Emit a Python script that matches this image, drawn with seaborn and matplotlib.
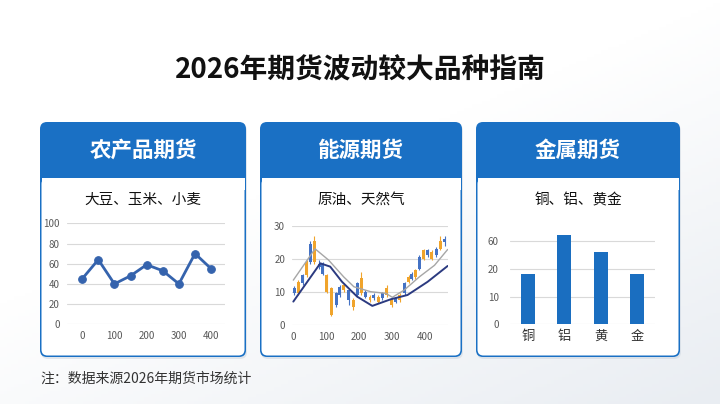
import numpy as np
import pandas as pd
import seaborn as sns
import matplotlib.pyplot as plt
from matplotlib.patches import FancyBboxPatch, Rectangle

# ---- data ----
title = "2026年期货波动较大品种指南"
panel_titles = ["农产品期货", "能源期货", "金属期货"]
panel_subtitles = ["大豆、玉米、小麦", "原油、天然气", "铜、铝、黄金"]
footnote = "注：数据来源2026年期货市场统计"

# agriculture line
agri_x = [0, 50, 100, 150, 200, 250, 300, 350, 400]
agri_y = [45, 64, 40, 48, 59, 53, 40, 70, 55]

# energy candlesticks
energy_x = [3, 15, 28, 41, 51, 64, 79, 90, 102, 115, 130, 141, 153, 168, 182, 194, 207, 219, 233,
            245, 258, 270, 284, 299, 311, 324, 339, 350, 360, 370, 383, 396, 408, 421, 434, 447, 460]
energy_open = [9.5, 13, 12.5, 19, 19, 25.5, 17.5, 15.5, 15, 11, 6, 9, 12, 7.5, 7.5, 9, 14, 8.5, 8.5,
               8, 8.5, 8, 11, 7.5, 7, 9, 9.5, 14.5, 14, 16.5, 17, 22.5, 21, 22, 21, 25.5, 25]
energy_close = [11, 9.5, 15, 15, 24.5, 19, 18.5, 18.5, 10, 3, 9.5, 11.5, 10.5, 10.5, 5.5, 12.5, 9.5, 10, 7.5,
                9, 7, 9.5, 9, 6, 8, 7.5, 12.5, 13, 15.5, 14.5, 20.5, 20, 22.5, 20, 23, 23, 26]
energy_high = [11.8, 13.5, 15.5, 19.5, 25.5, 27, 19.5, 19, 15.5, 11.5, 10, 12, 12.5, 11, 8, 13, 16, 10.5, 9,
               9.5, 9, 10, 12, 8, 8.5, 9.5, 13, 15, 16, 17, 21, 23, 23, 22.5, 23.5, 27, 27]
energy_low = [9, 9, 12, 14.5, 18.5, 18.5, 17, 15, 9.5, 2.5, 5.5, 8.5, 10, 6, 4.5, 8.5, 9, 8, 7,
              7.5, 6.5, 7.5, 8.5, 5.5, 6.5, 7, 9, 12.5, 13.5, 14, 16.5, 19.5, 20.5, 19.5, 20.5, 22.5, 24]
ma_gray_x = [0, 66, 107, 153, 184, 235, 281, 301, 337, 383, 429, 469]
ma_gray_y = [13.5, 23, 19.6, 14.5, 11.5, 10, 9.5, 8.3, 10.5, 14.5, 18, 22.8]
ma_navy_x = [0, 82, 112, 148, 194, 240, 296, 347, 408, 469]
ma_navy_y = [7, 18.6, 17.6, 13, 8.5, 5.7, 7.7, 9, 13, 17.8]

# metals bars (axis labelled 0, 10, 20, 60 at equal steps)
metal_names = ["铜", "铝", "黄", "金"]
metal_vals = [1.8, 3.23, 2.6, 1.8]
metal_ticklabels = ["0", "10", "20", "60"]

BLUE = "#1a70c4"
GRID = "#d9d9d9"
TICK = "#595959"

sns.set_theme(style="white")
plt.rcParams['font.family'] = ['Noto Sans CJK SC', 'DejaVu Sans']

fig = plt.figure(figsize=(7.2, 4.04), dpi=100)

# background axes in pixel coordinates
bg = fig.add_axes([0, 0, 1, 1])
bg.set_xlim(0, 720)
bg.set_ylim(404, 0)
bg.axis('off')
gx, gy = np.meshgrid(np.linspace(0, 1, 200), np.linspace(0, 1, 120))
grad = np.clip((gx * 0.6 + gy * 0.8) - 0.6, 0, 1)
bg.imshow(grad, extent=[0, 720, 404, 0], cmap=sns.blend_palette(["#ffffff", "#e9edf2"], as_cmap=True),
          vmin=0, vmax=0.8, aspect='auto', zorder=0)

bg.text(360, 70, title, ha='center', va='center', fontsize=20, fontweight='bold', color='#111111')
bg.text(40, 379, footnote, ha='left', va='center', fontsize=10, color='#333333')

panels = [(40, 246), (260, 462), (476, 680)]
top, head_bot, bot = 122, 178, 357
for (x0, x1), name, sub in zip(panels, panel_titles, panel_subtitles):
    w = x1 - x0
    # soft shadow
    bg.add_patch(FancyBboxPatch((x0 + 1, top + 2), w, bot - top, boxstyle="round,pad=0,rounding_size=7",
                                fc="#c9d3de", ec="none", alpha=0.5, zorder=1))
    bg.add_patch(FancyBboxPatch((x0, top), w, bot - top, boxstyle="round,pad=0,rounding_size=7",
                                fc=BLUE, ec="none", zorder=2))
    bg.add_patch(FancyBboxPatch((x0 + 1.5, head_bot), w - 3, bot - head_bot - 1.5,
                                boxstyle="round,pad=0,rounding_size=6", fc="white", ec="none", zorder=3))
    bg.add_patch(Rectangle((x0 + 1.5, head_bot), w - 3, 12, fc="white", ec="none", zorder=3))
    bg.text((x0 + x1) / 2, 150, name, ha='center', va='center', fontsize=15.5, fontweight='bold',
            color='white', zorder=4)
    bg.text((x0 + x1) / 2, 200, sub, ha='center', va='center', fontsize=10.5, color='#111111', zorder=4)


def style_axes(ax):
    ax.set_facecolor('none')
    for s in ax.spines.values():
        s.set_visible(False)
    ax.grid(axis='y', color=GRID, linewidth=0.8)
    ax.grid(axis='x', visible=False)
    ax.tick_params(axis='both', length=0, labelsize=7, colors=TICK, pad=5)
    ax.set_xlabel('')
    ax.set_ylabel('')


# panel 1: agriculture line
ax1 = fig.add_axes([66.7 / 720, 1 - 324.3 / 404, 158.3 / 720, 101 / 404])
sns.lineplot(x=agri_x, y=agri_y, ax=ax1, color="#3563ad", linewidth=2, marker='o', markersize=5.5,
             markeredgecolor="#3563ad")
ax1.set_xlim(-48, 443)
ax1.set_ylim(0, 100)
ax1.set_yticks([0, 20, 40, 60, 80, 100])
ax1.set_xticks([0, 100, 200, 300, 400])
style_axes(ax1)
ax1.tick_params(axis='y', pad=5)
for line in ax1.lines:
    line.set_clip_on(False)

# panel 2: energy candlesticks
ax2 = fig.add_axes([292 / 720, 1 - 324.7 / 404, 156 / 720, 99 / 404])
cdf = pd.DataFrame({'x': energy_x, 'o': energy_open, 'c': energy_close, 'h': energy_high, 'l': energy_low})
cdf['col'] = np.where(cdf['c'] >= cdf['o'], "#4472c4", "#f0a42c")
ax2.vlines(cdf['x'], cdf['l'], cdf['h'], colors=cdf['col'], linewidth=0.8, zorder=2)
ax2.bar(cdf['x'], (cdf['c'] - cdf['o']).abs(), bottom=cdf[['o', 'c']].min(axis=1), width=9,
        color=cdf['col'], linewidth=0, zorder=3)
sns.lineplot(x=ma_gray_x, y=ma_gray_y, ax=ax2, color="#a6a6a6", linewidth=1.0, zorder=4)
sns.lineplot(x=ma_navy_x, y=ma_navy_y, ax=ax2, color="#2b3a80", linewidth=1.4, zorder=4)
ax2.set_xlim(-4, 470)
ax2.set_ylim(0, 30)
ax2.set_yticks([0, 10, 20, 30])
ax2.set_xticks([0, 100, 200, 300, 400])
style_axes(ax2)

# panel 3: metals bars
ax3 = fig.add_axes([510 / 720, 1 - 324.3 / 404, 145 / 720, 97 / 404])
sns.barplot(x=metal_names, y=metal_vals, ax=ax3, color="#1a6ec0", saturation=1, width=0.39,
            linewidth=0, zorder=3)
ax3.set_xlim(-0.5, 3.5)
ax3.set_ylim(0, 3.5)
ax3.set_yticks(range(len(metal_ticklabels)))
ax3.set_yticklabels(metal_ticklabels)
style_axes(ax3)
ax3.tick_params(axis='x', labelsize=9.5, colors='#333333', pad=4)
ax3.tick_params(axis='y', pad=8)

fig.savefig("out.png", dpi=100)
